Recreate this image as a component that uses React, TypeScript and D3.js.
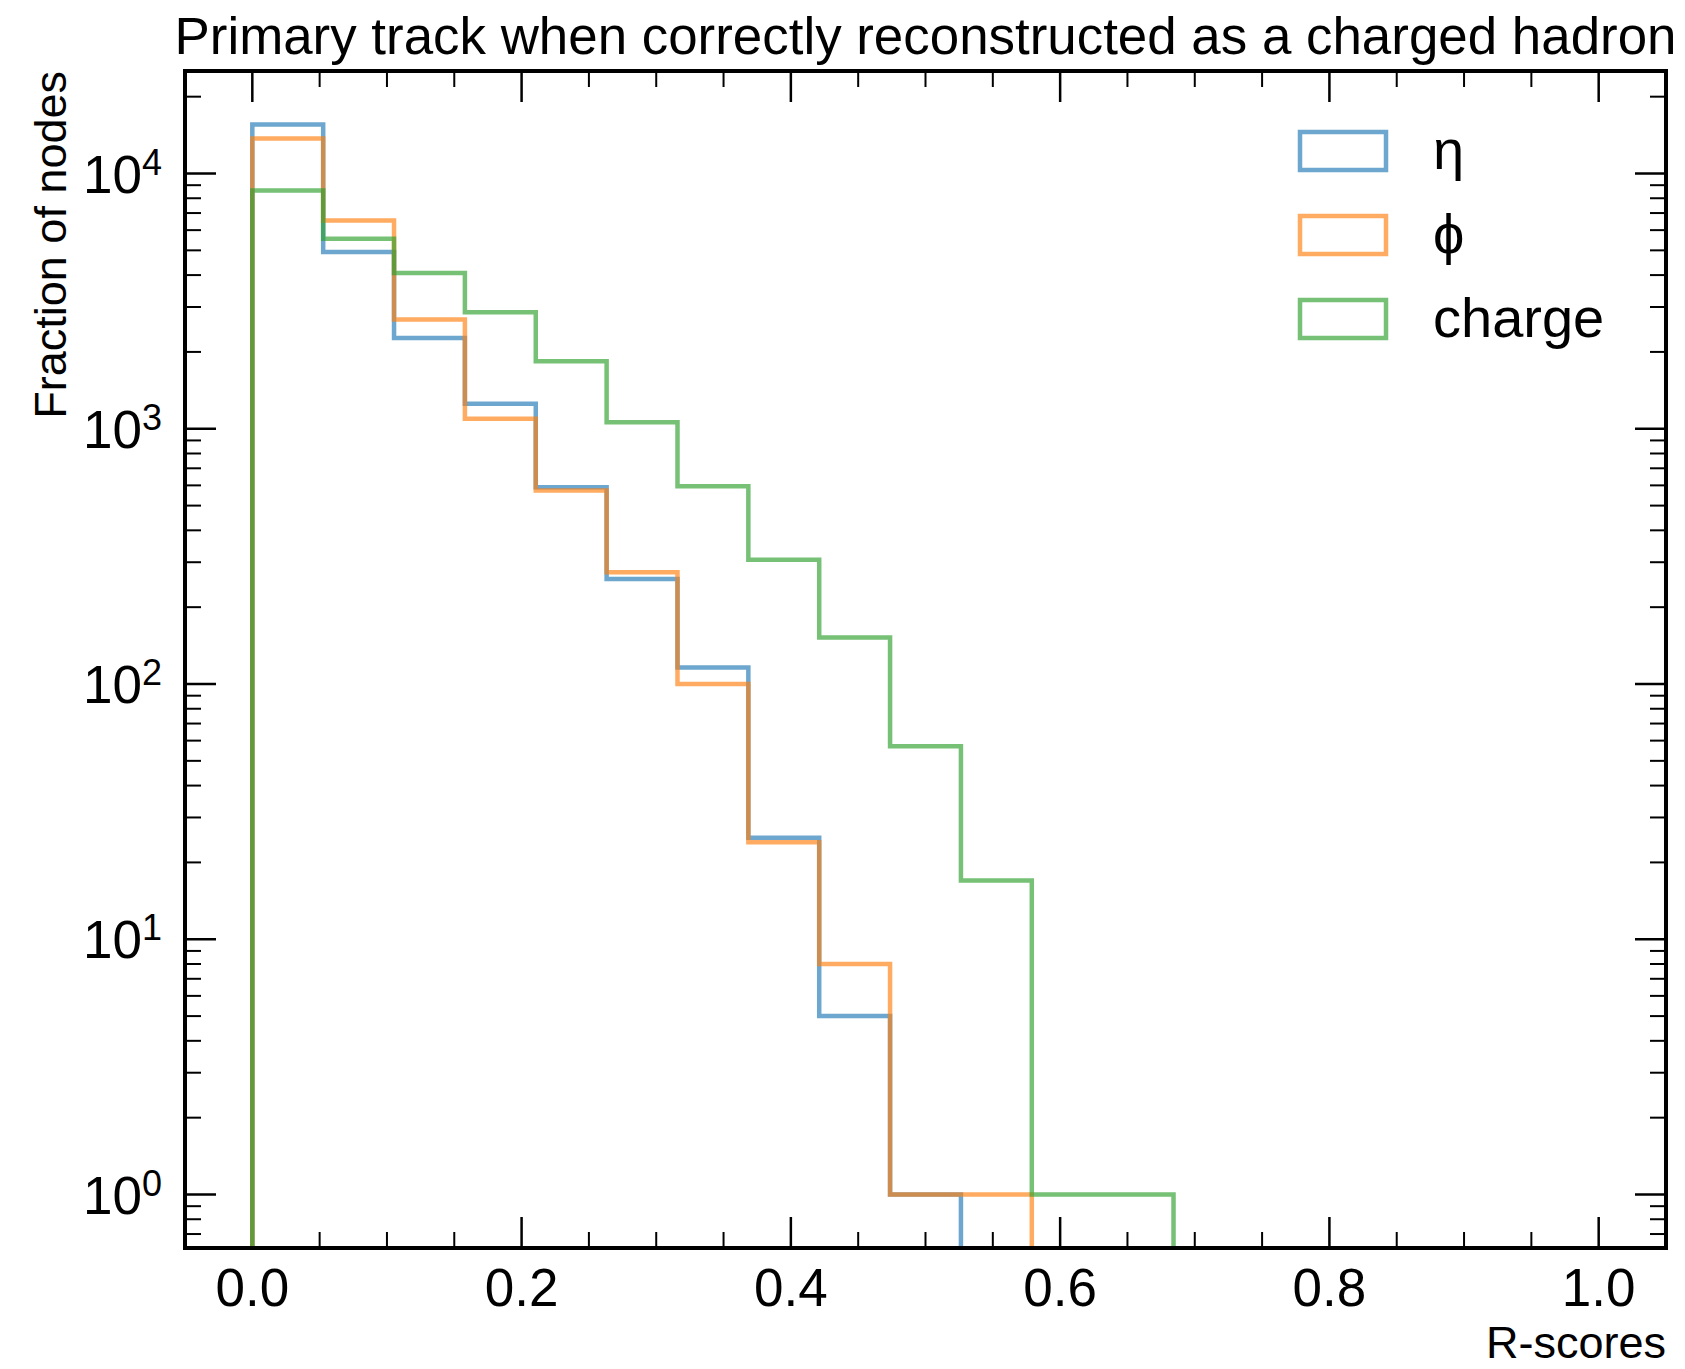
import React from "react";
import * as d3 from "d3";

// ---- data (counts per bin, 19 equal bins on [0, 1]) ----
const BIN_COUNT = 19;
const ETA = [15560, 4930, 2270, 1253, 590, 258, 116, 25, 5, 1, 0, 0, 0, 0, 0, 0, 0, 0, 0];
const PHI = [13710, 6545, 2680, 1094, 573, 274, 100, 24, 8, 1, 1, 0, 0, 0, 0, 0, 0, 0, 0];
const CHARGE = [8580, 5550, 4080, 2860, 1840, 1060, 596, 307, 152, 57, 17, 1, 1, 0, 0, 0, 0, 0, 0];
const SERIES_NAMES = ["η", "ϕ", "charge"];
const SERIES_COLORS = ["#1f77b4", "#ff7f0e", "#2ca02c"];
const X_TICKS = [0, 0.2, 0.4, 0.6, 0.8, 1.0];
const Y_TICKS = [0, 1, 2, 3, 4];
const TITLE = "Primary track when correctly reconstructed as a charged hadron";
const X_LABEL = "R-scores";
const Y_LABEL = "Fraction of nodes";

const W = 1685;
const H = 1369;
const AX = { left: 185, right: 1666, top: 71, bottom: 1248 };
const FONT = "'Liberation Sans', Arial, Helvetica, sans-serif";

export default function App() {
  const series = [ETA, PHI, CHARGE];
  const edges = d3.range(BIN_COUNT + 1).map((i) => i / BIN_COUNT);

  const x = d3.scaleLinear().domain([-0.05, 1.05]).range([AX.left, AX.right]);

  const allPos = series.flat().filter((v) => v > 0);
  const lo = Math.log10(d3.min(allPos) as number);
  const hi = Math.log10(d3.max(allPos) as number);
  const pad = 0.05 * (hi - lo);
  const y = d3
    .scaleLog()
    .domain([Math.pow(10, lo - pad), Math.pow(10, hi + pad)])
    .range([AX.bottom, AX.top]);
  const [yMin, yMax] = y.domain();
  const FLOOR = 1e-4;

  const stepPath = (vals: number[]) => {
    const pts: [number, number][] = [];
    pts.push([x(edges[0]), y(FLOOR)]);
    vals.forEach((v, i) => {
      const vv = v > 0 ? v : FLOOR;
      pts.push([x(edges[i]), y(vv)]);
      pts.push([x(edges[i + 1]), y(vv)]);
    });
    pts.push([x(edges[edges.length - 1]), y(FLOOR)]);
    return d3.line()(pts) as string;
  };

  const xMinor = d3
    .range(-1, 22)
    .map((i) => i * 0.05)
    .filter((v) => v > -0.05 + 1e-9 && v < 1.05 - 1e-9)
    .filter((v) => !X_TICKS.some((t) => Math.abs(t - v) < 1e-9));

  const yMinor: number[] = [];
  for (let k = -1; k <= 4; k++) {
    for (let m = 2; m <= 9; m++) {
      const v = m * Math.pow(10, k);
      if (v > yMin && v < yMax) yMinor.push(v);
    }
  }

  const MAJ = 31;
  const MIN = 16;

  return (
    <svg
      width={W}
      height={H}
      style={{ position: "absolute", left: 0, top: 0, background: "#fff" }}
      fontFamily={FONT}
    >
      <rect x={0} y={0} width={W} height={H} fill="#fff" />
      <defs>
        <clipPath id="axclip">
          <rect x={AX.left} y={AX.top} width={AX.right - AX.left} height={AX.bottom - AX.top} />
        </clipPath>
      </defs>

      {/* ticks */}
      <g stroke="#000">
        {X_TICKS.map((t) => (
          <g key={"xt" + t} strokeWidth={2.5}>
            <line x1={x(t)} x2={x(t)} y1={AX.bottom} y2={AX.bottom - MAJ} />
            <line x1={x(t)} x2={x(t)} y1={AX.top} y2={AX.top + MAJ} />
          </g>
        ))}
        {xMinor.map((t) => (
          <g key={"xm" + t} strokeWidth={2}>
            <line x1={x(t)} x2={x(t)} y1={AX.bottom} y2={AX.bottom - MIN} />
            <line x1={x(t)} x2={x(t)} y1={AX.top} y2={AX.top + MIN} />
          </g>
        ))}
        {Y_TICKS.map((k) => {
          const yy = y(Math.pow(10, k));
          return (
            <g key={"yt" + k} strokeWidth={2.5}>
              <line x1={AX.left} x2={AX.left + MAJ} y1={yy} y2={yy} />
              <line x1={AX.right} x2={AX.right - MAJ} y1={yy} y2={yy} />
            </g>
          );
        })}
        {yMinor.map((v) => {
          const yy = y(v);
          return (
            <g key={"ym" + v} strokeWidth={2}>
              <line x1={AX.left} x2={AX.left + MIN} y1={yy} y2={yy} />
              <line x1={AX.right} x2={AX.right - MIN} y1={yy} y2={yy} />
            </g>
          );
        })}
      </g>

      {/* histograms (white underlay hides ticks beneath the lines) */}
      <g clipPath="url(#axclip)">
        {series.map((vals, i) => (
          <path
            key={"u" + i}
            d={stepPath(vals)}
            fill="none"
            stroke="#fff"
            strokeWidth={4.5}
          />
        ))}
        {series.map((vals, i) => (
          <path
            key={i}
            d={stepPath(vals)}
            fill="none"
            stroke={SERIES_COLORS[i]}
            strokeOpacity={0.65}
            strokeWidth={4.5}
            strokeLinejoin="miter"
          />
        ))}
      </g>

      {/* frame */}
      <rect
        x={AX.left}
        y={AX.top}
        width={AX.right - AX.left}
        height={AX.bottom - AX.top}
        fill="none"
        stroke="#000"
        strokeWidth={4}
      />

      {/* x tick labels */}
      {X_TICKS.map((t) => (
        <text key={"xl" + t} x={x(t)} y={1306} fontSize={53} textAnchor="middle" fill="#000">
          {d3.format(".1f")(t)}
        </text>
      ))}

      {/* y tick labels */}
      {Y_TICKS.map((k) => {
        const yy = y(Math.pow(10, k));
        return (
          <text key={"yl" + k} x={162} y={yy + 19} fontSize={53} textAnchor="end" fill="#000">
            <tspan>10</tspan>
            <tspan dy={-18} fontSize={36}>
              {String(k)}
            </tspan>
          </text>
        );
      })}

      {/* axis labels */}
      <text x={AX.right} y={1358} fontSize={45} textAnchor="end" fill="#000">
        {X_LABEL}
      </text>
      <text
        transform={`translate(66, ${AX.top}) rotate(-90)`}
        fontSize={45}
        textAnchor="end"
        fill="#000"
      >
        {Y_LABEL}
      </text>

      {/* title */}
      <text
        x={(AX.left + AX.right) / 2}
        y={54}
        fontSize={51}
        textAnchor="middle"
        textLength={1502}
        lengthAdjust="spacingAndGlyphs"
        fill="#000"
      >
        {TITLE}
      </text>

      {/* legend */}
      {SERIES_NAMES.map((name, i) => {
        const top = 132 + i * 84;
        return (
          <g key={"lg" + i}>
            <rect
              x={1300}
              y={top}
              width={86}
              height={38}
              fill="none"
              stroke={SERIES_COLORS[i]}
              strokeOpacity={0.65}
              strokeWidth={4.5}
            />
            <text
              x={1433}
              y={top + 37}
              fontSize={56}
              fill="#000"
              fontFamily={"'Liberation Sans', 'DejaVu Sans', sans-serif"}
            >
              {name}
            </text>
          </g>
        );
      })}
    </svg>
  );
}
